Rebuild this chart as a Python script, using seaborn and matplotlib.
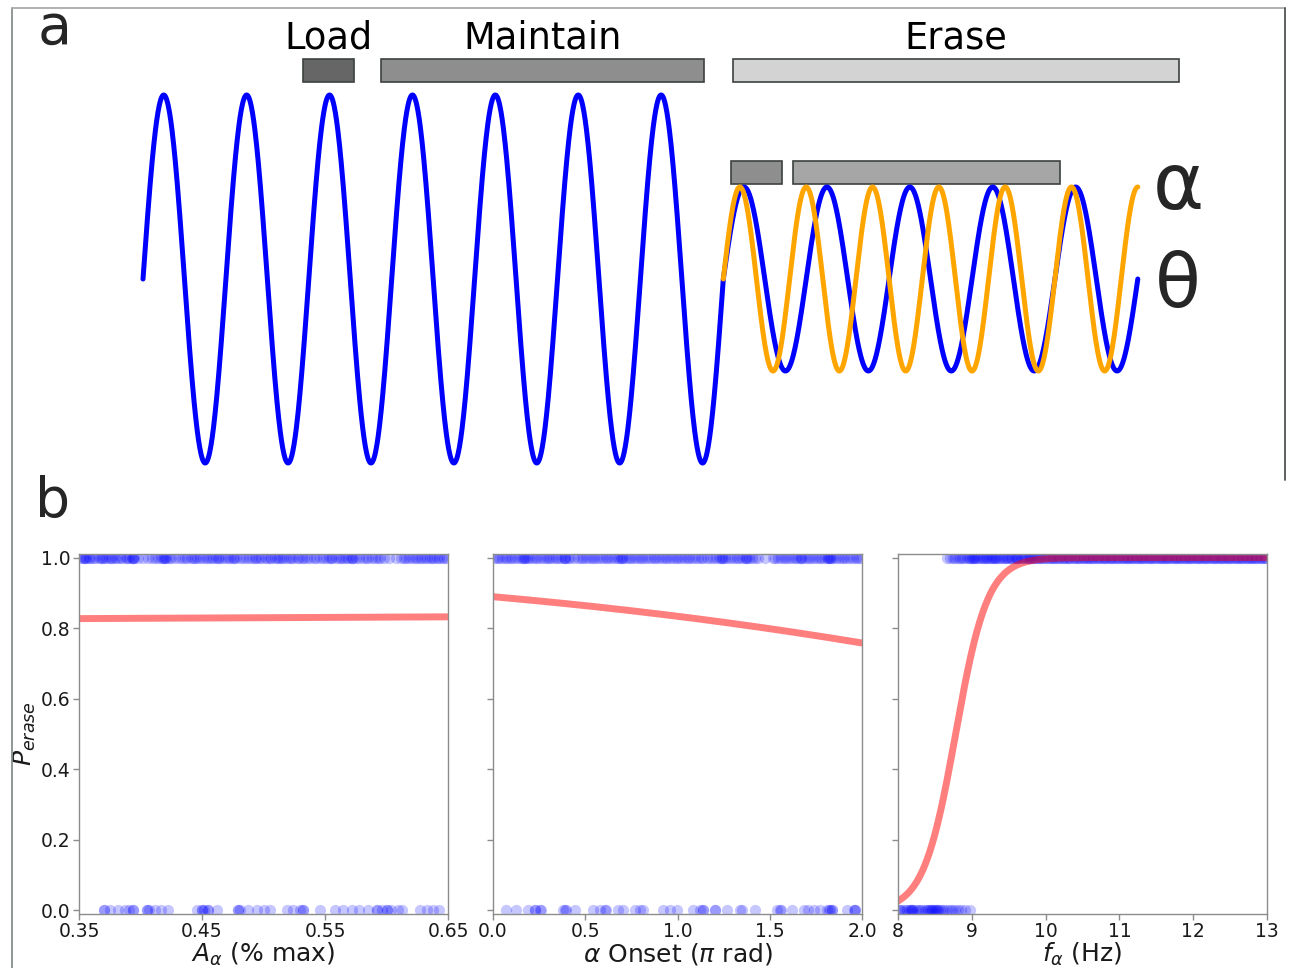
import numpy as np
import pandas as pd
import matplotlib
matplotlib.use("Agg")
import matplotlib.pyplot as plt
from matplotlib.lines import Line2D
import seaborn as sns

# ---------------- panel a: schematic oscillations ----------------
THETA_HZ = 8.0
ALPHA_HZ = 10.0
THETA_CYCLES_PRE = 7      # load + maintain
THETA_CYCLES_ERASE = 5
AMP_PRE = 1.0
AMP_ERASE = 0.5

epoch_labels = ["Load", "Maintain", "Erase"]
epoch_starts = [0.241, 0.359, 0.890]
epoch_ends = [0.318, 0.846, 1.562]
epoch_colors = ["#666666", "#8e8e8e", "#d3d3d3"]

alpha_epoch_starts = [0.887, 0.980]
alpha_epoch_ends = [0.964, 1.383]
alpha_epoch_colors = ["#8e8e8e", "#a6a6a6"]

# ---------------- panel b: trial outcomes and logistic fits ----------------
amp_erased = [0.351, 0.353, 0.354, 0.355, 0.356, 0.358, 0.359,
              0.361, 0.363, 0.366, 0.368, 0.369, 0.370,
              0.372, 0.374, 0.376, 0.377, 0.379,
              0.381, 0.383, 0.385, 0.388, 0.389,
              0.391, 0.393, 0.394, 0.394, 0.395, 0.398,
              0.402, 0.406, 0.409,
              0.412, 0.414, 0.417, 0.418, 0.419, 0.420,
              0.421, 0.423, 0.425, 0.428,
              0.431, 0.434, 0.436, 0.438,
              0.441, 0.443, 0.444, 0.446, 0.448,
              0.451, 0.453, 0.455, 0.457, 0.459,
              0.461, 0.463, 0.464, 0.466, 0.469,
              0.471, 0.473, 0.475, 0.476, 0.478,
              0.481, 0.483, 0.486, 0.488,
              0.491, 0.493, 0.494, 0.496, 0.498,
              0.501, 0.503, 0.505, 0.506, 0.509,
              0.511, 0.513, 0.514, 0.516, 0.518,
              0.521, 0.522, 0.524, 0.527, 0.529,
              0.531, 0.533, 0.535, 0.538,
              0.541, 0.543, 0.546, 0.548,
              0.551, 0.553, 0.555, 0.556, 0.559,
              0.561, 0.563, 0.565, 0.567, 0.569,
              0.571, 0.572, 0.573, 0.575, 0.578,
              0.581, 0.583, 0.585, 0.588,
              0.591, 0.593, 0.595, 0.598,
              0.602, 0.608,
              0.612, 0.614, 0.616, 0.618,
              0.621, 0.623, 0.625, 0.627, 0.629,
              0.631, 0.633, 0.635, 0.637, 0.639,
              0.641, 0.643, 0.645, 0.647, 0.649]
amp_kept = [0.370, 0.370, 0.375, 0.382, 0.387, 0.391, 0.394, 0.394, 0.405, 0.405,
            0.407, 0.412, 0.417, 0.422, 0.446, 0.450, 0.450, 0.452, 0.455, 0.455,
            0.462, 0.479, 0.479, 0.481, 0.487, 0.495, 0.500, 0.505, 0.519, 0.524,
            0.530, 0.532, 0.532, 0.546, 0.558, 0.565, 0.572, 0.578, 0.585, 0.592,
            0.592, 0.596, 0.600, 0.600, 0.604, 0.609, 0.613, 0.627, 0.633, 0.638,
            0.643]

onset_erased = [0.005, 0.02, 0.035, 0.05, 0.063, 0.078, 0.09,
                0.105, 0.12, 0.135, 0.15, 0.165, 0.17, 0.172, 0.185, 0.197,
                0.21, 0.225, 0.24, 0.255, 0.27, 0.285, 0.298,
                0.31, 0.325, 0.34, 0.355, 0.37, 0.385, 0.39, 0.392,
                0.405, 0.42, 0.44, 0.46, 0.475, 0.49,
                0.505, 0.52, 0.535, 0.55, 0.565, 0.58, 0.595,
                0.61, 0.625, 0.64, 0.655, 0.67, 0.685, 0.695, 0.70,
                0.705, 0.72, 0.735, 0.75, 0.765, 0.78, 0.795,
                0.81, 0.825, 0.84, 0.855, 0.87, 0.885,
                0.90, 0.915, 0.93, 0.945, 0.96, 0.975, 0.99,
                1.005, 1.02, 1.035, 1.05, 1.065, 1.08, 1.095,
                1.11, 1.125, 1.14, 1.16, 1.175, 1.19,
                1.21, 1.225, 1.235, 1.24, 1.245, 1.26, 1.275, 1.29,
                1.305, 1.32, 1.335, 1.35, 1.365, 1.37, 1.375, 1.39,
                1.405, 1.42, 1.435, 1.475,
                1.515, 1.53, 1.545, 1.56, 1.575, 1.59,
                1.605, 1.62, 1.635, 1.65, 1.665, 1.67, 1.675, 1.69,
                1.705, 1.72, 1.735, 1.75, 1.765, 1.78, 1.795,
                1.81, 1.815, 1.82, 1.825, 1.83, 1.845, 1.86, 1.875, 1.89,
                1.905, 1.92, 1.935, 1.95, 1.965, 1.98, 1.995]
onset_kept = [0.072, 0.127, 0.190, 0.226, 0.230, 0.253, 0.262, 0.380, 0.390, 0.398,
              0.443, 0.543, 0.579, 0.606, 0.610, 0.679, 0.706, 0.769, 0.796, 0.814,
              0.923, 0.959, 0.995, 1.086, 1.122, 1.140, 1.140, 1.204, 1.204, 1.267,
              1.339, 1.350, 1.421, 1.538, 1.557, 1.560, 1.620, 1.683, 1.710, 1.738,
              1.774, 1.810, 1.820, 1.828, 1.837, 1.840, 1.919, 1.955, 1.960, 1.964]

freq_erased = [8.66, 8.70, 8.74, 8.77,
               8.81, 8.84, 8.87, 8.90, 8.93, 8.96, 8.98,
               9.00, 9.01, 9.03, 9.05, 9.07, 9.10, 9.12, 9.15, 9.17, 9.19,
               9.21, 9.23, 9.26, 9.28, 9.30, 9.31, 9.33, 9.36, 9.38,
               9.41, 9.43, 9.46, 9.48, 9.50, 9.53, 9.55, 9.58, 9.60,
               9.61, 9.63, 9.66, 9.68, 9.71, 9.73, 9.76, 9.77, 9.79,
               9.81, 9.83, 9.86, 9.88, 9.91, 9.93, 9.95, 9.98,
               10.01, 10.03, 10.06, 10.08, 10.10, 10.13, 10.15, 10.18,
               10.20, 10.23, 10.25, 10.27, 10.30, 10.32, 10.35, 10.38,
               10.40, 10.42, 10.45, 10.47, 10.50, 10.52, 10.55, 10.57, 10.59,
               10.62, 10.64, 10.66, 10.69, 10.71, 10.74, 10.76, 10.79,
               10.81, 10.83, 10.86, 10.88, 10.90, 10.93, 10.95, 10.98,
               11.00, 11.03, 11.05, 11.08, 11.10, 11.12, 11.15, 11.17, 11.19,
               11.22, 11.24, 11.27, 11.29, 11.31, 11.34, 11.36, 11.39,
               11.41, 11.43, 11.46, 11.48, 11.51, 11.53, 11.56, 11.58,
               11.60, 11.63, 11.65, 11.67, 11.70, 11.72, 11.75, 11.77, 11.79,
               11.82, 11.84, 11.87, 11.89, 11.91, 11.94, 11.96, 11.99,
               12.01, 12.04, 12.06, 12.08, 12.11, 12.13, 12.16, 12.18,
               12.20, 12.23, 12.25, 12.28, 12.30, 12.32, 12.35, 12.37, 12.39,
               12.42, 12.44, 12.47, 12.49, 12.51, 12.54, 12.56, 12.59,
               12.61, 12.63, 12.66, 12.68, 12.71, 12.73, 12.75, 12.78,
               12.80, 12.83, 12.85, 12.87, 12.90, 12.92, 12.95, 12.97, 12.99]
freq_kept = [8.01, 8.03, 8.06, 8.09, 8.12, 8.15, 8.17, 8.18, 8.19, 8.21,
             8.24, 8.27, 8.30, 8.33, 8.36, 8.39, 8.41, 8.43, 8.45, 8.46,
             8.48, 8.50, 8.51, 8.53, 8.54, 8.57, 8.60, 8.63, 8.66, 8.70,
             8.73, 8.77, 8.81, 8.86, 8.91, 8.97]

# logistic fits: (intercept, slope)
fit_amp = (1.523, 0.118)
fit_onset = (2.081, -0.470)
fit_freq = (-40.39, 4.6)

x_limits = [(0.35, 0.65), (0.0, 2.0), (8.0, 13.0)]
x_ticks = [[0.35, 0.45, 0.55, 0.65], [0.0, 0.5, 1.0, 1.5, 2.0], [8, 9, 10, 11, 12, 13]]
x_ticklabels = [["0.35", "0.45", "0.55", "0.65"], ["0.0", "0.5", "1.0", "1.5", "2.0"],
                ["8", "9", "10", "11", "12", "13"]]
x_labels = [r"$A_{\alpha}$ (% max)", r"$\alpha$ Onset ($\pi$ rad)", r"$f_{\alpha}$ (Hz)"]
y_ticks = [0.0, 0.2, 0.4, 0.6, 0.8, 1.0]

sns.set_style("white")
plt.rcParams["font.family"] = ["DejaVu Sans"]
plt.rcParams["mathtext.fontset"] = "dejavusans"

W, H = 1290, 968
fig = plt.figure(figsize=(W / 100, H / 100), dpi=100)
fig.patch.set_facecolor("white")

# ---------- panel a ----------
PX_PER_S = 663.2
T0_PX, Y0_PX, PX_PER_AMP = 143.0, 279.0, 184.0
PANEL_A_BOTTOM_PX = 480.0
ax_a = fig.add_axes([0, 1 - PANEL_A_BOTTOM_PX / H, 1, PANEL_A_BOTTOM_PX / H])
ax_a.set_xlim(-T0_PX / PX_PER_S, (W - T0_PX) / PX_PER_S)
ax_a.set_ylim((Y0_PX - PANEL_A_BOTTOM_PX) / PX_PER_AMP, Y0_PX / PX_PER_AMP)
ax_a.axis("off")

t_switch = THETA_CYCLES_PRE / THETA_HZ
t_end = t_switch + THETA_CYCLES_ERASE / THETA_HZ
t_pre = np.linspace(0, t_switch, 1400)
t_er = np.linspace(t_switch, t_end, 1000)
theta_t = np.concatenate([t_pre, t_er])
theta_y = np.concatenate([AMP_PRE * np.sin(2 * np.pi * THETA_HZ * t_pre),
                          AMP_ERASE * np.sin(2 * np.pi * THETA_HZ * (t_er - t_switch))])
alpha_y = AMP_ERASE * np.sin(2 * np.pi * ALPHA_HZ * (t_er - t_switch))

sns.lineplot(x=theta_t, y=theta_y, ax=ax_a, color="#0000ff", lw=3.6, sort=False,
             estimator=None)
sns.lineplot(x=t_er, y=alpha_y, ax=ax_a, color="#ffa500", lw=3.6, sort=False,
             estimator=None)

bar_edge = "#3d423d"
top_row = (1.071, 1.196)
ax_a.barh(y=[(top_row[0] + top_row[1]) / 2] * 3,
          width=np.subtract(epoch_ends, epoch_starts), left=epoch_starts,
          height=top_row[1] - top_row[0], color=epoch_colors, edgecolor=bar_edge,
          linewidth=1.2)
for lab, s, e in zip(epoch_labels, epoch_starts, epoch_ends):
    ax_a.text((s + e) / 2, 1.31, lab, ha="center", va="center", fontsize=26.5,
              color="black")
alpha_row = (0.516, 0.641)
ax_a.barh(y=[(alpha_row[0] + alpha_row[1]) / 2] * 2,
          width=np.subtract(alpha_epoch_ends, alpha_epoch_starts), left=alpha_epoch_starts,
          height=alpha_row[1] - alpha_row[0], color=alpha_epoch_colors,
          edgecolor=bar_edge, linewidth=1.2)
ax_a.text(1.561, 0.50, "α", ha="center", va="center", fontsize=56)
ax_a.text(1.561, -0.04, "θ", ha="center", va="center", fontsize=54)

# outline of panel a
fig.add_artist(Line2D([12 / W, 12 / W], [0, 1 - 8 / H], transform=fig.transFigure,
                      color="#8a8f8a", lw=1.3))
fig.add_artist(Line2D([12 / W, 1285 / W], [1 - 8 / H, 1 - 8 / H], transform=fig.transFigure,
                      color="#a8aea8", lw=1.3))
fig.add_artist(Line2D([1285 / W, 1285 / W], [1 - 8 / H, 1 - 480 / H],
                      transform=fig.transFigure, color="#505550", lw=1.3))

fig.text(55 / W, 1 - 29 / H, "a", ha="center", va="center", fontsize=40)
fig.text(53 / W, 1 - 502 / H, "b", ha="center", va="center", fontsize=40)

# ---------- panel b ----------
lefts = [79, 493, 898]
ax_w, ax_h, ax_bottom = 369, 360, 914
datasets = [(amp_erased, amp_kept, fit_amp),
            (onset_erased, onset_kept, fit_onset),
            (freq_erased, freq_kept, fit_freq)]
spine_col = "#8c8c8c"
for i, (left, (erased, kept, fit)) in enumerate(zip(lefts, datasets)):
    ax = fig.add_axes([left / W, (H - ax_bottom) / H, ax_w / W, ax_h / H])
    df = pd.DataFrame({"x": list(erased) + list(kept),
                       "p": [1.0] * len(erased) + [0.0] * len(kept)})
    sns.scatterplot(data=df, x="x", y="p", ax=ax, color="#0000ff", alpha=0.22, s=66,
                    linewidth=0, legend=False)
    xg = np.linspace(x_limits[i][0], x_limits[i][1], 400)
    pg = 1.0 / (1.0 + np.exp(-(fit[0] + fit[1] * xg)))
    sns.lineplot(x=xg, y=pg, ax=ax, color="red", alpha=0.5, lw=5, estimator=None)
    ax.set_xlim(*x_limits[i])
    ax.set_ylim(-0.01, 1.01)
    ax.set_xticks(x_ticks[i])
    ax.set_xticklabels(x_ticklabels[i])
    ax.set_yticks(y_ticks)
    ax.set_facecolor("white")
    for sp in ax.spines.values():
        sp.set_visible(True)
        sp.set_color(spine_col)
        sp.set_linewidth(1.0)
    ax.tick_params(axis="both", direction="out", length=4, width=1, color=spine_col,
                   labelsize=13.5, labelcolor="#1a1a1a", pad=2, left=True, bottom=True)
    ax.set_xlabel(x_labels[i], fontsize=18, color="#1a1a1a")
    ax.xaxis.set_label_coords(0.5, -0.075)
    ax.xaxis.label.set_va("top")
    if i == 0:
        ax.set_yticklabels([f"{v:.1f}" for v in y_ticks])
        ax.set_ylabel(r"$P_{erase}$", fontsize=18, color="#1a1a1a")
        ax.yaxis.set_label_coords(-0.11, 0.5)
    else:
        ax.set_ylabel("")
        ax.tick_params(labelleft=False)

fig.savefig("out.png", dpi=100, facecolor="white")
